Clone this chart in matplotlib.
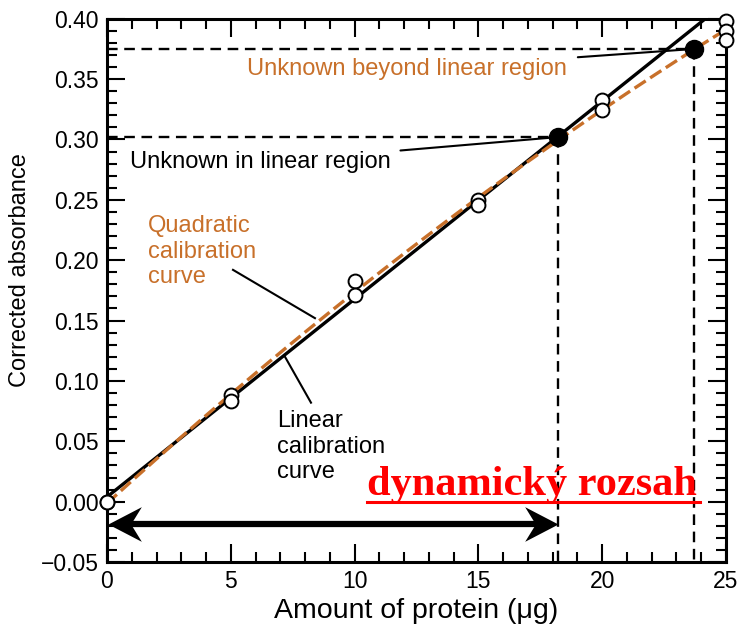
import numpy as np
import matplotlib
matplotlib.use("Agg")
import matplotlib.pyplot as plt
from matplotlib.path import Path
from matplotlib.ticker import MultipleLocator, FuncFormatter

plt.rcParams["font.family"] = ["Liberation Sans", "DejaVu Sans"]

ORANGE = "#c8702a"

# calibration standards (open circles)
std_x = [0, 0, 5, 5, 10, 10, 15, 15, 20, 20, 25, 25, 25]
std_y = [0.000, 0.000, 0.088, 0.083, 0.183, 0.171, 0.250, 0.246,
         0.333, 0.324, 0.398, 0.390, 0.382]

# unknowns (filled circles)
unk_x = [18.23, 23.72]
unk_y = [0.302, 0.375]

LINEAR_MAX_X = 20          # linear region used for the straight-line fit
range_x = [0.05, 18.2]     # dynamic range arrow
range_y = -0.0185

# ----------------------------------------------------------------------------
# Calibration fits
# ----------------------------------------------------------------------------
sx, sy = np.array(std_x), np.array(std_y)
mask = sx <= LINEAR_MAX_X
lin = np.polyfit(sx[mask], sy[mask], 1)
quad = np.polyfit(sx, sy, 2)
xx = np.linspace(0, 25, 200)

fig = plt.figure(figsize=(7.43, 6.31), dpi=100)
ax = fig.add_axes([0.144, 0.1093, 0.833, 0.861])

ax.plot(xx, np.polyval(lin, xx), color="black", lw=2.4, zorder=3)
ax.plot(xx, np.polyval(quad, xx), color=ORANGE, lw=2.4, dashes=(4, 1.6), zorder=4)

# guide lines to the unknowns
for ux, uy in zip(unk_x, unk_y):
    ax.plot([0, ux], [uy, uy], color="black", lw=1.7, dashes=(4.5, 2.8), zorder=2)
    ax.plot([ux, ux], [uy, -0.05], color="black", lw=1.7, dashes=(4.5, 2.8), zorder=2)

ax.plot(std_x, std_y, "o", ms=10, mfc="white", mec="black", mew=1.4, zorder=5,
        clip_on=False)
ax.plot(unk_x, unk_y, "o", ms=13, color="black", zorder=6, clip_on=False)

# annotations
fs = 17
ax.annotate("Unknown beyond linear region", xy=(unk_x[1], unk_y[1]),
            xytext=(5.65, 0.358), color=ORANGE, fontsize=fs, va="center",
            arrowprops=dict(arrowstyle="-", color="black", lw=1.5,
                            shrinkA=6, shrinkB=6))
ax.annotate("Unknown in linear region", xy=(unk_x[0], unk_y[0]),
            xytext=(0.93, 0.281), color="black", fontsize=fs, va="center",
            arrowprops=dict(arrowstyle="-", color="black", lw=1.5,
                            shrinkA=5, shrinkB=6))
ax.text(1.66, 0.207, "Quadratic\ncalibration\ncurve", color=ORANGE,
        fontsize=fs, va="center", linespacing=1.2)
ax.plot([5.09, 8.40], [0.192, 0.152], color="black", lw=1.5, zorder=3)
ax.text(6.87, 0.0456, "Linear\ncalibration\ncurve", color="black",
        fontsize=fs, va="center", linespacing=1.2)
ax.plot([8.24, 7.19], [0.082, 0.120], color="black", lw=1.5, zorder=3)

# dynamic range: thick shaft + swept-back arrowheads
ax.plot([range_x[0] + 0.6, range_x[1] - 0.6], [range_y, range_y],
        color="black", lw=4.5, solid_capstyle="butt", zorder=6)
head = Path([(0, 0), (-1.0, 0.52), (-0.68, 0), (-1.0, -0.52), (0, 0)],
            [Path.MOVETO, Path.LINETO, Path.LINETO, Path.LINETO, Path.CLOSEPOLY])
head_left = Path(head.vertices * [-1, 1], head.codes)
ax.plot([range_x[1]], [range_y], marker=head, ms=48, color="black",
        mec="black", mew=0, zorder=6, clip_on=False)
ax.plot([range_x[0]], [range_y], marker=head_left, ms=48, color="black",
        mec="black", mew=0, zorder=6, clip_on=False)

ax.text(10.5, 0.0058, "dynamický rozsah", color="red", fontsize=30.5,
        fontweight="bold", family=["Liberation Serif", "DejaVu Serif"],
        va="baseline", ha="left", zorder=7)
ax.plot([10.5, 23.95], [0.0, 0.0], color="red", lw=2.2, zorder=7)

# axes styling
ax.set_xlim(0, 25)
ax.set_ylim(-0.05, 0.40)
ax.xaxis.set_major_locator(MultipleLocator(5))
ax.xaxis.set_minor_locator(MultipleLocator(1))
ax.yaxis.set_major_locator(MultipleLocator(0.05))
ax.yaxis.set_minor_locator(MultipleLocator(0.01))
ax.yaxis.set_major_formatter(FuncFormatter(lambda v, p: f"{v:.2f}".replace("-", "\u2212")))
ax.tick_params(which="both", direction="in", top=True, right=True,
               width=1.5, labelsize=16.5)
ax.tick_params(which="major", length=13, pad=6)
ax.tick_params(which="minor", length=7)
for s in ax.spines.values():
    s.set_linewidth(2.2)

ax.set_xlabel("Amount of protein (\u03bcg)", fontsize=20.5, labelpad=3)
ax.set_ylabel("Corrected absorbance", fontsize=17)
ax.yaxis.set_label_coords(-0.123, 0.538)

fig.savefig("out.png", dpi=100)
